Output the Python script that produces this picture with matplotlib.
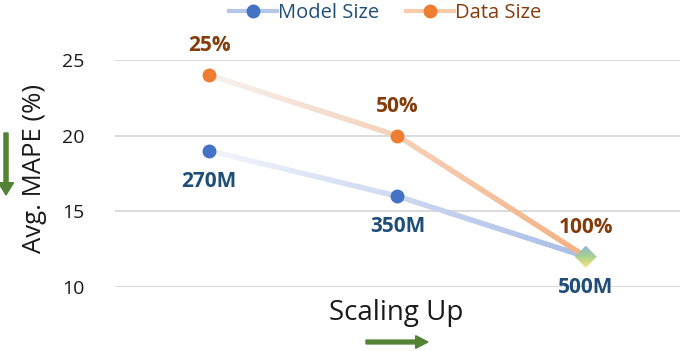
import numpy as np
import matplotlib
matplotlib.use("Agg")
import matplotlib.pyplot as plt
from matplotlib.collections import LineCollection
from matplotlib.colors import LinearSegmentedColormap
from matplotlib.patches import Polygon
from matplotlib.lines import Line2D

plt.rcParams['font.family'] = ['Open Sans', 'DejaVu Sans']

# data
categories = ['270M', '350M', '500M']
model_mape = [19, 16, 12]
data_mape = [24, 20, 12]
data_labels = ['25%', '50%', '100%']
yticks = [10, 15, 20, 25]

fig = plt.figure(figsize=(6.85, 3.51), dpi=100)
ax = fig.add_axes([115 / 685, 64 / 351, 565 / 685, 227 / 351])
ax.set_xlim(-0.5, 2.5)
ax.set_ylim(10, 25)
for s in ax.spines.values():
    s.set_visible(False)
ax.set_xticks([])
ax.set_yticks(yticks)
ax.tick_params(axis='y', length=0, pad=22, labelsize=14, labelcolor='#1a1a1a')
ax.grid(axis='y', color='#d9d9d9', lw=1.3)
ax.set_axisbelow(True)

x = np.arange(len(categories))


def gradient_line(xs, ys, c0, c1, z):
    cmap = LinearSegmentedColormap.from_list('g', [c0, c1])
    px, py = [], []
    for i in range(len(xs) - 1):
        t = np.linspace(0, 1, 60)
        px.extend(xs[i] + (xs[i + 1] - xs[i]) * t)
        py.extend(ys[i] + (ys[i + 1] - ys[i]) * t)
    px, py = np.array(px), np.array(py)
    pts = np.column_stack([px, py]).reshape(-1, 1, 2)
    segs = np.concatenate([pts[:-1], pts[1:]], axis=1)
    frac = np.linspace(0, 1, len(segs))
    lc = LineCollection(segs, colors=cmap(frac), linewidths=3.8, capstyle='round', zorder=z)
    ax.add_collection(lc)


gradient_line(x, model_mape, '#f3f5fb', '#a9bde6', 2)
gradient_line(x, data_mape, '#f6f2f0', '#f4b183', 3)

ax.plot(x[:-1], model_mape[:-1], 'o', ms=9, color='#4472c4', zorder=4)
ax.plot(x[:-1], data_mape[:-1], 'o', ms=9, color='#ed7d31', zorder=4)

# gradient diamond at the last point
fig.canvas.draw()
cx, cy = ax.transData.transform((x[-1], model_mape[-1]))
r = 11
corners = [(cx, cy + r), (cx + r, cy), (cx, cy - r), (cx - r, cy)]
dcorners = ax.transData.inverted().transform(corners)
diamond = Polygon(dcorners, closed=True, facecolor='none', edgecolor='none', zorder=5)
ax.add_patch(diamond)
dx0, dy0 = dcorners[:, 0].min(), dcorners[:, 1].min()
dx1, dy1 = dcorners[:, 0].max(), dcorners[:, 1].max()
gcmap = LinearSegmentedColormap.from_list('d', ['#8fb4dc', '#a9d18e', '#ffe27a'])
grad = np.linspace(0, 1, 100).reshape(-1, 1)
im = ax.imshow(grad, cmap=gcmap, extent=[dx0, dx1, dy0, dy1], aspect='auto',
               origin='upper', zorder=5)
im.set_clip_path(diamond)
ax.set_xlim(-0.5, 2.5)
ax.set_ylim(10, 25)

# point labels
lab_font = dict(fontsize=15, fontweight='bold', ha='center', va='center', clip_on=False)
for xi, yi, lab in zip(x, data_mape, data_labels):
    ax.annotate(lab, (xi, yi), xytext=(0, 21), textcoords='offset points',
                color='#843c0c', **lab_font)
for xi, yi, lab in zip(x, model_mape, categories):
    ax.annotate(lab, (xi, yi), xytext=(0, -22), textcoords='offset points',
                color='#1f4e79', **lab_font)

# axis titles
fig.text(35 / 685, 1 - 168 / 351, 'Avg. MAPE (%)', rotation=90, fontsize=18.5,
         ha='center', va='center', color='#1a1a1a')
fig.text(396 / 685, 1 - 313 / 351, 'Scaling Up', fontsize=20,
         ha='center', va='center', color='#1a1a1a')

# green arrows
fig.patches.append(matplotlib.patches.FancyArrow(
    6 / 685, 1 - 133 / 351, 0, -62 / 351, width=0.006, head_width=0.022,
    head_length=0.035, length_includes_head=True, color='#548235',
    transform=fig.transFigure, figure=fig))
fig.patches.append(matplotlib.patches.FancyArrow(
    366 / 685, 1 - 342 / 351, 62 / 685, 0, width=0.011, head_width=0.036,
    head_length=0.018, length_includes_head=True, color='#548235',
    transform=fig.transFigure, figure=fig))

# legend
h1 = Line2D([], [], color='#b4c7e7', lw=3, marker='o', ms=9,
            markerfacecolor='#4472c4', markeredgecolor='#4472c4')
h2 = Line2D([], [], color='#f8cbad', lw=3, marker='o', ms=9,
            markerfacecolor='#ed7d31', markeredgecolor='#ed7d31')
leg = fig.legend([h1, h2], ['Model Size', 'Data Size'], loc='center',
                 bbox_to_anchor=(385 / 685, 1 - 13 / 351), ncol=2, frameon=False,
                 fontsize=14.5, handlelength=2.4, handletextpad=0.05,
                 columnspacing=1.3, borderpad=0)
leg.get_texts()[0].set_color('#1f4e79')
leg.get_texts()[1].set_color('#843c0c')

fig.savefig('out.png', dpi=100)
